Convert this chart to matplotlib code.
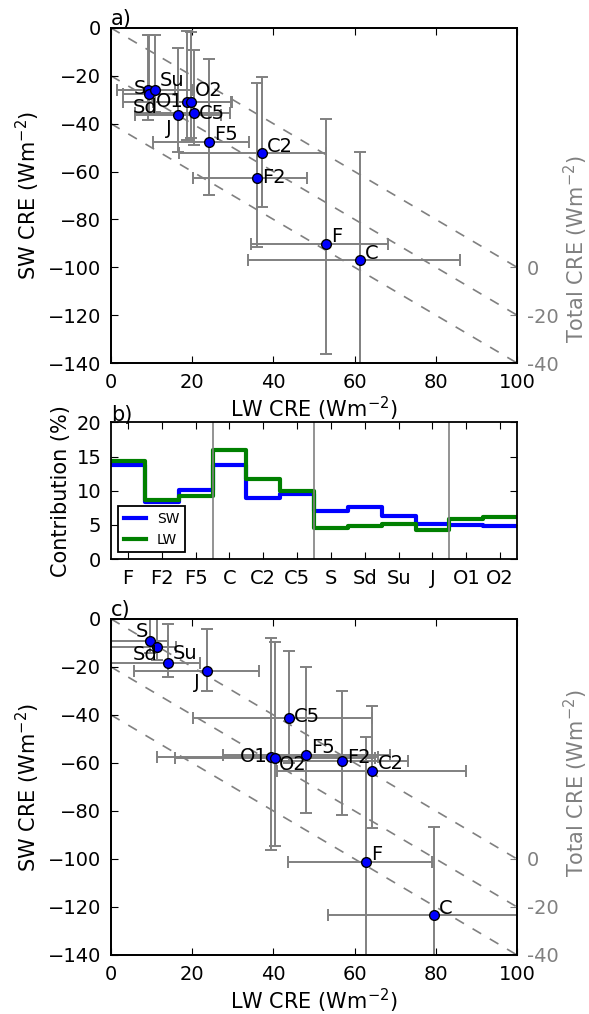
import matplotlib
matplotlib.use('Agg')
import matplotlib.pyplot as plt
import numpy as np

plt.rcParams.update({
    'font.family': ['DejaVu Sans'],
    'font.size': 14,
    'axes.labelsize': 15,
    'axes.labelpad': 2,
    'xtick.direction': 'in',
    'ytick.direction': 'in',
    'xtick.top': True,
    'ytick.right': True,
    'xtick.major.size': 5,
    'ytick.major.size': 5,
    'xtick.major.pad': 7,
    'ytick.major.pad': 7,
    'axes.linewidth': 1.3,
})

# categories (same order in all panels)
cats = ['F', 'F2', 'F5', 'C', 'C2', 'C5', 'S', 'Sd', 'Su', 'J', 'O1', 'O2']
group_edges = [3, 6, 10]
total_levels = [0, -20, -40]

# panel a: LW / SW CRE and error bar ends
lw_a = [53.0, 35.9, 24.1, 61.3, 37.2, 20.5, 9.0, 9.4, 10.8, 16.5, 18.8, 19.6]
sw_a = [-90.3, -62.7, -47.6, -96.8, -52.4, -35.7, -25.9, -27.6, -25.9, -36.5, -30.8, -30.8]
lw_lo_a = [34.4, 20.3, 10.3, 33.8, 16.7, 5.8, 1.4, 2.9, 1.5, 6.0, 3.0, 10.4]
lw_hi_a = [68.2, 48.2, 34.1, 85.9, 53.0, 29.3, 15.8, 16.5, 20.0, 27.0, 29.5, 29.7]
sw_lo_a = [-136.2, -91.6, -69.8, -142.0, -74.8, -48.9, -38.4, -36.0, -35.0, -52.0, -46.8, -46.0]
sw_hi_a = [-38.0, -23.1, -12.9, -51.7, -20.3, -9.2, -2.9, -3.0, -3.0, -8.5, -1.3, -1.5]

# panel b: contribution (%)
sw_contrib = [13.7, 8.3, 10.1, 13.8, 8.9, 9.5, 7.1, 7.6, 6.3, 5.2, 5.0, 4.9]
lw_contrib = [14.3, 8.6, 9.2, 15.9, 11.7, 10.0, 4.6, 4.9, 5.2, 4.2, 5.8, 6.1]

# panel c
lw_c = [62.8, 56.9, 48.1, 79.6, 64.4, 43.9, 9.7, 11.3, 14.0, 23.6, 39.4, 40.4]
sw_c = [-101.3, -59.0, -56.7, -123.3, -63.2, -41.3, -9.0, -11.5, -18.2, -21.5, -57.4, -57.9]
lw_lo_c = [43.7, 40.7, 27.5, 53.5, 41.0, 20.1, -5.0, -5.0, -2.0, 5.7, 11.3, 15.8]
lw_hi_c = [79.1, 73.1, 68.7, 106.0, 87.4, 64.4, 14.0, 16.0, 21.8, 36.5, 65.7, 65.0]
sw_lo_c = [-155.0, -81.7, -80.7, -160.0, -87.2, -60.0, -14.0, -17.0, -24.0, -29.9, -96.3, -94.6]
sw_hi_c = [-49.3, -29.9, -20.1, -86.5, -36.1, -13.2, 3.0, 2.0, -2.1, -4.3, -8.0, -9.4]

# label offsets (points) and alignment
offs_a = {'F': (3.6, 5.4, 'left'), 'F2': (3.6, 0.4, 'left'), 'F5': (3.6, 5.4, 'left'),
          'C': (3.6, 4.7, 'left'), 'C2': (3.6, 5.0, 'left'), 'C5': (3.6, 0.0, 'left'),
          'S': (-0.7, 1.4, 'right'), 'Sd': (5.8, -9.7, 'right'), 'Su': (3.6, 6.5, 'left'),
          'J': (-4.3, -9.5, 'right'), 'O1': (-2.9, 0.0, 'right'), 'O2': (2.9, 8.0, 'left')}
offs_c = {'F': (3.6, 5.4, 'left'), 'F2': (3.6, 2.2, 'left'), 'F5': (3.6, 5.4, 'left'),
          'C': (3.6, 4.7, 'left'), 'C2': (3.6, 5.5, 'left'), 'C5': (3.6, 1.4, 'left'),
          'S': (-1.4, 6.3, 'right'), 'Sd': (0.7, -5.8, 'right'), 'Su': (3.6, 6.5, 'left'),
          'J': (-5.0, -8.5, 'right'), 'O1': (-2.2, 0.0, 'right'), 'O2': (2.9, -5.0, 'left')}


def scatter_panel(ax, lw, sw, lw_lo, lw_hi, sw_lo, sw_hi, offs, label, ylab_y):
    lw = np.array(lw)
    sw = np.array(sw)
    xerr = [lw - np.array(lw_lo), np.array(lw_hi) - lw]
    yerr = [sw - np.array(sw_lo), np.array(sw_hi) - sw]

    # lines of constant total CRE
    xl = np.array([0, 100])
    for t in total_levels:
        ax.plot(xl, t - xl, '--', color='gray', lw=1.2, dashes=(6, 6), zorder=1)

    ax.errorbar(lw, sw, xerr=xerr, yerr=yerr, fmt='none', ecolor='gray',
                elinewidth=1.4, capsize=4, capthick=1.4, zorder=2)
    ax.plot(lw, sw, 'o', mfc='b', mec='k', ms=7, mew=1, zorder=3)
    for i, name in enumerate(cats):
        dx, dy, ha = offs[name]
        ax.annotate(name, (lw[i], sw[i]), xytext=(dx, dy), textcoords='offset points',
                    ha=ha, va='center', fontsize=14, zorder=4)

    ax.set_xlim(0, 100)
    ax.set_ylim(-140, 0)
    ax.set_xticks(np.arange(0, 101, 20))
    ax.set_yticks(np.arange(-140, 1, 20))
    ax.set_xlabel('LW CRE (Wm$^{-2}$)')
    ax.set_ylabel('SW CRE (Wm$^{-2}$)', labelpad=4)
    ax.text(0.0, 1.01, label, transform=ax.transAxes, ha='left', va='baseline', fontsize=15)

    # right axis with total CRE
    ax2 = ax.twinx()
    ax2.set_ylim(-40, 100)
    ax2.set_yticks(total_levels)
    ax2.set_yticklabels([str(t) for t in total_levels])
    ax2.tick_params(axis='y', colors='gray')
    ax2.set_ylabel('Total CRE (Wm$^{-2}$)', color='gray')
    ax2.yaxis.set_label_coords(1.11, ylab_y)


fig = plt.figure(figsize=(5.89, 10.14), dpi=100)
ax_a = fig.add_axes([0.1885, 0.642, 0.6893, 0.3304])
ax_b = fig.add_axes([0.1885, 0.4487, 0.6893, 0.1347])
ax_c = fig.add_axes([0.1885, 0.0582, 0.6893, 0.3314])

scatter_panel(ax_a, lw_a, sw_a, lw_lo_a, lw_hi_a, sw_lo_a, sw_hi_a, offs_a, 'a)', 0.34)
scatter_panel(ax_c, lw_c, sw_c, lw_lo_c, lw_hi_c, sw_lo_c, sw_hi_c, offs_c, 'c)', 0.51)

# panel b: step plot of contributions
edges = np.arange(len(cats) + 1)
ax_b.step(edges, np.append(sw_contrib, sw_contrib[-1]), where='post', color='b', lw=3, label='SW')
ax_b.step(edges, np.append(lw_contrib, lw_contrib[-1]), where='post', color='g', lw=3, label='LW')
for e in group_edges:
    ax_b.axvline(e, color='gray', lw=1.2)
ax_b.set_xlim(0, len(cats))
ax_b.set_ylim(0, 20)
ax_b.set_yticks([0, 5, 10, 15, 20])
ax_b.set_xticks(np.arange(len(cats)) + 0.5)
ax_b.set_xticklabels(cats)
ax_b.set_ylabel('Contribution (%)', labelpad=4)
ax_b.text(0.0, 1.01, 'b)', transform=ax_b.transAxes, ha='left', va='baseline', fontsize=15)
leg = ax_b.legend(loc='lower left', fontsize=10, fancybox=False, handlelength=1.6,
                  framealpha=1)
leg.get_frame().set_edgecolor('k')
leg.get_frame().set_linewidth(1.3)

fig.savefig('out.png', dpi=100)
